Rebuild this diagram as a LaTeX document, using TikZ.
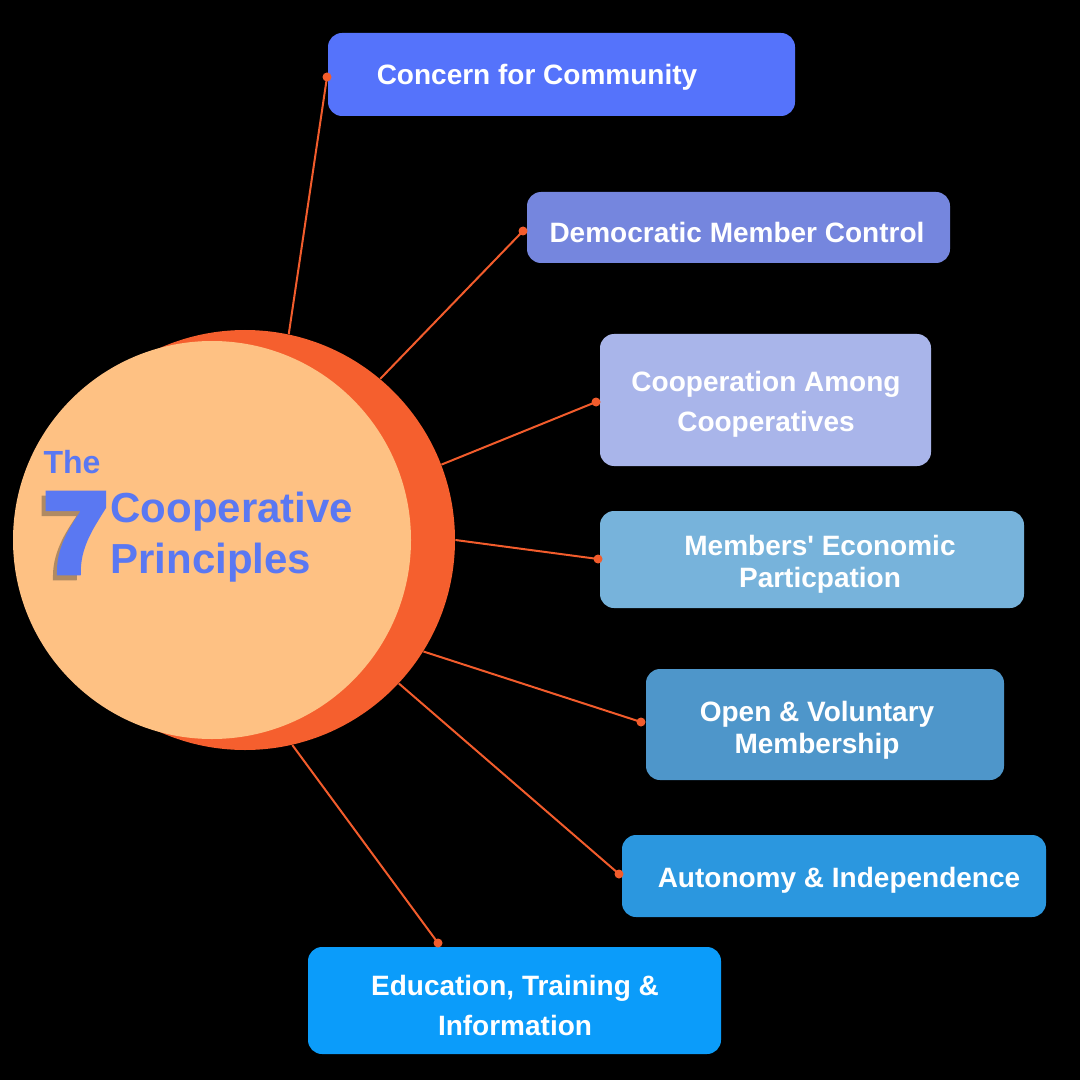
\documentclass[tikz,border=0pt]{standalone}
\usepackage{fontspec}
\setmainfont{Liberation Sans}
\newfontfamily\heavyfont[FakeBold=7]{Liberation Sans Bold}
\definecolor{bgc}{HTML}{000000}
\definecolor{orangeC}{HTML}{F55F2E}
\definecolor{peach}{HTML}{FEC183}
\definecolor{lineor}{HTML}{F25C2C}
\definecolor{titlec}{HTML}{5A78F2}
\definecolor{shadowc}{HTML}{B08A62}
\definecolor{c1}{HTML}{5573FB}
\definecolor{c2}{HTML}{7586DE}
\definecolor{c3}{HTML}{A9B5EA}
\definecolor{c4}{HTML}{77B3DB}
\definecolor{c5}{HTML}{4E96CA}
\definecolor{c6}{HTML}{2B97DF}
\definecolor{c7}{HTML}{0B9CFA}
\tikzset{
 box/.style={rectangle, rounded corners=7pt, inner sep=0pt, draw=none},
 lbl/.style={text=white, font=\bfseries\fontsize{14}{20}\selectfont, align=center, inner sep=0pt},
 lbltight/.style={text=white, font=\bfseries\fontsize{14}{16}\selectfont, align=center, inner sep=0pt},
 conn/.style={draw=lineor, line width=1pt},
 dotc/.style={circle, fill=lineor, inner sep=0pt, minimum size=4.5pt},
 ttl/.style={text=titlec, font=\bfseries, inner sep=0pt},
}
\begin{document}
\begin{tikzpicture}[x=0.5pt,y=-0.5pt]
\fill[bgc] (0,0) rectangle (1080,1080);
\useasboundingbox (0,0) rectangle (1080,1080);
% circles
\node[circle, fill=orangeC, minimum size=210pt, inner sep=0pt] (oc) at (245,540) {};
\node[circle, fill=peach, minimum size=199pt, inner sep=0pt] (lc) at (212,540) {};
% title
\node[ttl, font=\bfseries\fontsize{16}{16}\selectfont] (the) at (72,462) {The};
\node[inner sep=0pt, text=shadowc, font=\heavyfont\fontsize{56}{56}\selectfont] (sev2) at (72,538) {7};
\node[inner sep=0pt, text=titlec, font=\heavyfont\fontsize{56}{56}\selectfont] (sev) at (76,533) {7};
\node[ttl, font=\bfseries\fontsize{21}{21}\selectfont, anchor=west] (coop) at (110,512) {Cooperative};
\node[ttl, font=\bfseries\fontsize{21}{21}\selectfont, anchor=west] (prin) at (110,563) {Principles};
% boxes
\node[box, fill=c1, minimum width=233.5pt, minimum height=41.5pt] (b1) at (561.5,74.5) {};
\node[box, fill=c2, minimum width=211.5pt, minimum height=35.5pt] (b2) at (738.5,227.5) {};
\node[box, fill=c3, minimum width=165.5pt, minimum height=66pt] (b3) at (765.5,400) {};
\node[box, fill=c4, minimum width=212pt, minimum height=48.5pt] (b4) at (812,559.5) {};
\node[box, fill=c5, minimum width=179pt, minimum height=55.5pt] (b5) at (825,724.5) {};
\node[box, fill=c6, minimum width=212pt, minimum height=41pt] (b6) at (834,876) {};
\node[box, fill=c7, minimum width=206.5pt, minimum height=53.5pt] (b7) at (514.5,1000.5) {};
% labels
\node[lbl] (t1) at (537,77) {Concern for Community};
\node[lbl] (t2) at (737,232) {Democratic Member Control};
\node[lbl] (t3) at (766,404) {Cooperation Among\\Cooperatives};
\node[lbltight] (t4) at (820,564) {Members\textquotesingle\ Economic\\Particpation};
\node[lbltight] (t5) at (817,730) {Open \& Voluntary\\Membership};
\node[lbl] (t6) at (839,880) {Autonomy \& Independence};
\node[lbl] (t7) at (515,1005) {Education, Training \&\\Information};
% connectors
\coordinate (d1) at (327,77);
\coordinate (d2) at (523,231);
\coordinate (d3) at (596,402);
\coordinate (d4) at (598,559);
\coordinate (d5) at (641,722);
\coordinate (d6) at (619,874);
\coordinate (d7) at (438,943);
\draw[conn] (oc.78.5) -- (d1);
\draw[conn] (oc.50.8) -- (d2);
\draw[conn] (oc.21) -- (d3);
\draw[conn] (oc.0) -- (d4);
\draw[conn] (oc.-32) -- (d5);
\draw[conn] (oc.-43.8) -- (d6);
\draw[conn] (oc.-77.4) -- (d7);
\foreach \d in {d1,d2,d3,d4,d5,d6,d7} \node[dotc] at (\d) {};
\end{tikzpicture}
\end{document}
